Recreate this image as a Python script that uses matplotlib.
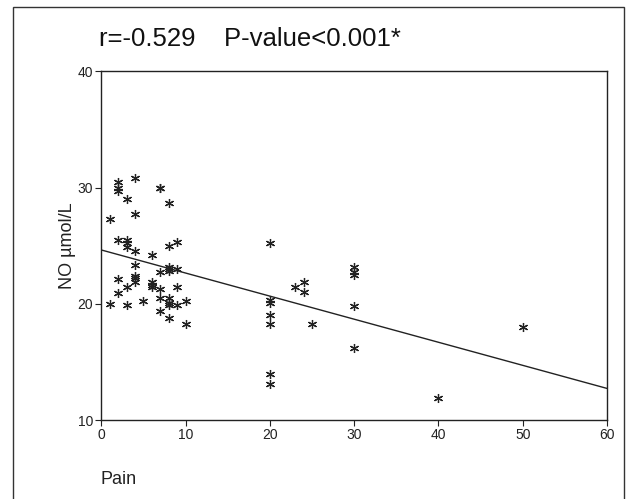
import matplotlib
matplotlib.use("Agg")
import matplotlib.pyplot as plt
import numpy as np
from matplotlib.patches import Rectangle

plt.rcParams['font.family'] = ['Liberation Sans', 'DejaVu Sans']

pain = [1, 1,
        2, 2, 2, 2, 2, 2,
        3, 3, 3, 3, 3, 3,
        4, 4, 4, 4, 4, 4, 4,
        5,
        6, 6, 6, 6,
        7, 7, 7, 7, 7, 7,
        8, 8, 8, 8, 8, 8, 8, 8, 8,
        9, 9, 9, 9,
        10, 10,
        20, 20, 20, 20, 20, 20, 20,
        23, 24, 24, 25,
        30, 30, 30, 30, 30,
        40, 50]
no = [27.3, 20.0,
      30.5, 30.0, 29.7, 25.5, 22.1, 20.9,
      29.0, 25.5, 25.2, 24.9, 21.4, 19.9,
      30.8, 27.7, 24.5, 23.3, 22.4, 22.2, 21.9,
      20.2,
      24.2, 21.9, 21.6, 21.4,
      30.0, 30.0, 22.7, 21.3, 20.5, 19.4,
      28.7, 25.0, 23.2, 23.0, 22.8, 20.5, 20.1, 19.9, 18.8,
      25.3, 23.0, 21.4, 19.9,
      20.2, 18.3,
      25.2, 20.3, 20.1, 19.0, 18.3, 14.0, 13.1,
      21.4, 21.9, 21.0, 18.3,
      23.2, 22.7, 22.5, 19.85, 16.2,
      11.9, 18.0]

title_text = "r=-0.529    P-value<0.001*"
xticks = [0, 10, 20, 30, 40, 50, 60]
yticks = [10, 20, 30, 40]

fig = plt.figure(figsize=(6.33, 4.99), dpi=100)
ax = fig.add_axes([101.3/633, 1-420/499, (607-101.3)/633, (420-71.3)/499])

ax.plot(pain, no, linestyle='none', marker=(6, 2, 0), markersize=6.5,
        markeredgecolor='#222222', markeredgewidth=0.9, color='#222222')

slope, intercept = np.polyfit(pain, no, 1)
xl = np.array([0, 60])
ax.plot(xl, intercept + slope * xl, color='#222222', linewidth=1.0)

ax.set_xlim(0, 60)
ax.set_ylim(10, 40)
ax.set_xticks(xticks)
ax.set_yticks(yticks)
ax.tick_params(direction='out', length=4, width=0.8, labelsize=10, colors='#222222', pad=2)
for s in ax.spines.values():
    s.set_linewidth(1.0)
    s.set_color('#222222')

ax.set_ylabel("NO µmol/L", fontsize=13, color='#222222', labelpad=1)
fig.text(100/633, 1-479/499, "Pain", fontsize=13, color='#222222', ha='left', va='center')
fig.text(99/633, 1-39/499, title_text, fontsize=18.5, color='#111111', ha='left', va='center')

fig.patches.append(Rectangle((13/633, -0.05), (624-13)/633, 1.05-7/499,
                             transform=fig.transFigure, fill=False,
                             edgecolor='#333333', linewidth=1.0))

fig.savefig("out.png", dpi=100)
